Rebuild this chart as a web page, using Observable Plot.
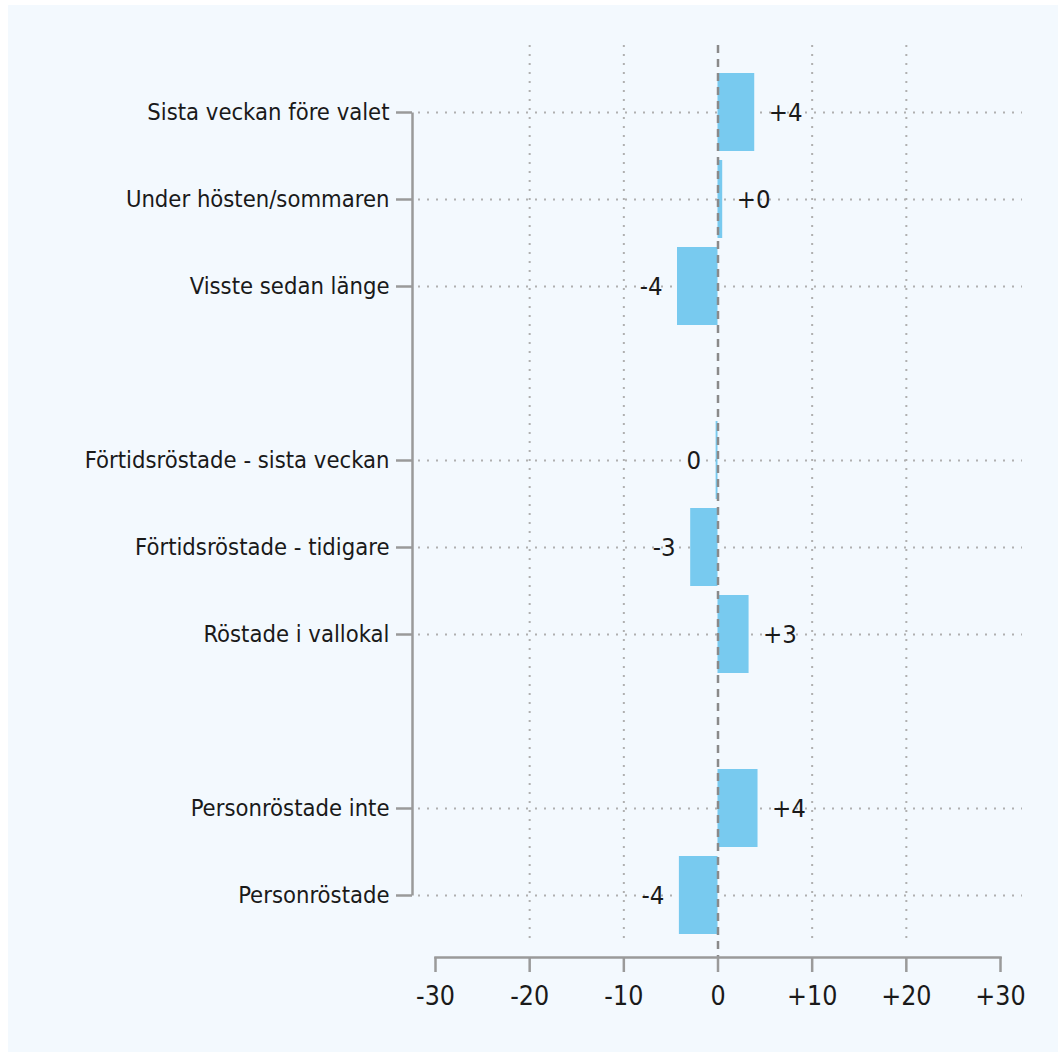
<!DOCTYPE html>
<html><head><meta charset="utf-8">
<script src="https://cdn.jsdelivr.net/npm/d3@7"></script>
<script src="https://cdn.jsdelivr.net/npm/@observablehq/plot@0.6"></script>
<style>
body{margin:0;background:#fff;}
#panel{position:absolute;left:8px;top:5px;width:1050px;height:1047px;background:#f3f9fe;}
</style></head><body><div id="panel"></div>
<script>
const categories = ["Sista veckan före valet","Under hösten/sommaren","Visste sedan länge","Förtidsröstade - sista veckan","Förtidsröstade - tidigare","Röstade i vallokal","Personröstade inte","Personröstade"];
const values = [3.9, 0.5, -4.3, -0.2, -2.9, 3.3, 4.25, -4.1];
const valueLabels = ["+4","+0","-4","0","-3","+3","+4","-4"];
const yOrder = ["Sista veckan före valet","Under hösten/sommaren","Visste sedan länge","gap1","Förtidsröstade - sista veckan","Förtidsröstade - tidigare","Röstade i vallokal","gap2","Personröstade inte","Personröstade"];
const xDomain = [-30, 30];
const xTicks = [-30,-20,-10,0,10,20,30];
const xTickLabels = ["-30","-20","-10","0","+10","+20","+30"];
const gridTicks = [-20,-10,10,20];

const data = categories.map((c,i) => ({category: c, value: values[i], label: valueLabels[i]}));
const FONT = '"DejaVu Sans Condensed","Liberation Sans",sans-serif';
const GRAY = "#9a9a9a";
const DOT = "#b0b0b0";
const FS = 24;

const chart = Plot.plot({
  width: 1050, height: 1047,
  marginLeft: 404, marginRight: 36, marginTop: 40, marginBottom: 95,
  style: {background: "transparent", fontFamily: FONT, fontSize: FS + "px", color: "#1a1a1a"},
  x: {domain: xDomain, insetLeft: 23, insetRight: 22},
  y: {domain: yOrder, paddingInner: 0.1, paddingOuter: 0, insetTop: 26.75, insetBottom: 21.75},
  marks: [
    Plot.ruleY(categories, {insetLeft: 6, stroke: DOT, strokeWidth: 2, strokeDasharray: "2,7"}),
    Plot.ruleX(gridTicks, {insetBottom: 12, stroke: DOT, strokeWidth: 2, strokeDasharray: "2,7"}),
    Plot.barX(data, {x: "value", y: "category", fill: "#78caef"}),
    Plot.ruleX([0], {stroke: "#8a8a8a", strokeWidth: 2.5, strokeDasharray: "8,6"}),
    Plot.text(data.filter(d => d.value >= 0), {x: "value", y: "category", text: "label", textAnchor: "start", dx: 14, fontSize: 25.5, fill: "#1a1a1a"}),
    Plot.text(data.filter(d => d.value < 0), {x: "value", y: "category", text: "label", textAnchor: "end", dx: -15, fontSize: 25.5, fill: "#1a1a1a"}),
    Plot.axisY(categories, {tickSize: 16, tickPadding: 7, stroke: GRAY, strokeWidth: 2.5, fontSize: 23.6, label: null}),
    Plot.link([0], {x1: () => xDomain[0], x2: () => xDomain[0], y1: () => categories[0], y2: () => categories[categories.length-1], dx: -23, stroke: GRAY, strokeWidth: 2.5}),
    Plot.frame({anchor: "bottom", insetLeft: 23, insetRight: 22, stroke: GRAY, strokeWidth: 2.5}),
    Plot.axisX(xTicks, {tickSize: 15, tickPadding: 14, tickFormat: d => xTickLabels[xTicks.indexOf(d)], stroke: GRAY, strokeWidth: 2.5, fontSize: 26.5, label: null})
  ]
});
document.getElementById("panel").appendChild(chart);
</script></body></html>
